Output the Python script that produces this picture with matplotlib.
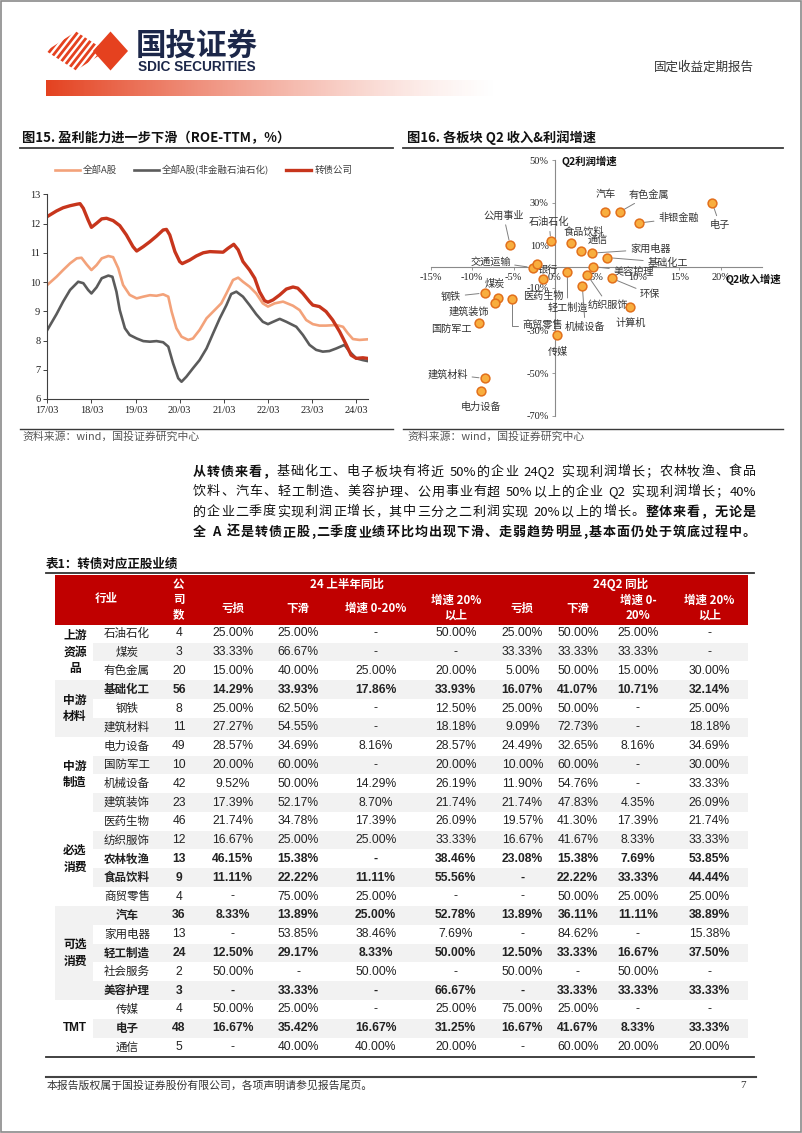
import matplotlib
matplotlib.use('Agg')
import matplotlib.pyplot as plt
import numpy as np
from matplotlib.patches import Polygon, Rectangle
from matplotlib.lines import Line2D
from matplotlib.font_manager import FontProperties

plt.rcParams['font.family'] = ['Noto Sans CJK SC', 'DejaVu Sans']
plt.rcParams['axes.unicode_minus'] = False

# ---------------- data: fig 15, ROE-TTM (x = months after 2017-03) ----------------
roe_all_m = [0, 2.5, 4.3, 6.2, 8, 9.3, 10.7, 12, 13.4, 14.8, 16.6, 17.9, 19.3, 20.6, 22.4, 24.3,
             26.1, 27.9, 29.7, 31.5, 32.9, 33.8, 35.1, 36.5, 38.3, 39.6, 41.4, 43.3, 45.5, 47.3,
             48.7, 50.5, 51.9, 53.2, 55, 56.8, 58.6, 60, 61.8, 64.1, 66.8, 68.6, 70.4, 72.2, 74,
             75.8, 78.6, 80.4, 81.7, 83.1, 84.9, 87]
roe_all = [9.90, 10.18, 10.41, 10.64, 10.81, 10.83, 10.60, 10.41, 10.58, 10.81, 10.89, 10.85, 10.47,
           9.90, 9.56, 9.44, 9.50, 9.55, 9.53, 9.58, 9.50, 8.99, 8.42, 8.13, 8.02, 8.07, 8.36, 8.76,
           9.04, 9.27, 9.61, 10.07, 10.15, 10.01, 9.84, 9.61, 9.27, 9.16, 9.27, 9.33, 9.19, 9.04,
           8.70, 8.56, 8.51, 8.51, 8.53, 8.47, 8.25, 8.05, 8.02, 8.04]
roe_ex_m = [0, 2.5, 4.3, 6.2, 8.4, 9.8, 11.1, 12, 13.4, 14.8, 16.6, 17.7, 18.8, 19.7, 21.1, 22.4,
            24.3, 26.1, 27.9, 29.7, 31.5, 32.9, 34.2, 35.6, 36.5, 37.8, 39.6, 41.4, 43.3, 45.1,
            46.9, 48.7, 50, 51.4, 53.2, 55, 56.8, 58.6, 60, 61.4, 63.2, 65, 67.7, 69.5, 71.3, 73.1,
            74.9, 76.7, 78.6, 80.8, 82.2, 84, 85.8, 87]
roe_ex = [8.36, 8.90, 9.33, 9.73, 10.01, 9.96, 9.73, 9.61, 9.82, 10.13, 10.22, 10.18, 9.67, 9.04,
          8.42, 8.19, 8.07, 7.98, 7.96, 7.98, 7.94, 7.79, 7.22, 6.71, 6.59, 6.76, 7.05, 7.33, 7.73,
          8.25, 8.76, 9.21, 9.59, 9.67, 9.50, 9.21, 8.90, 8.64, 8.56, 8.64, 8.74, 8.64, 8.47, 8.19,
          7.85, 7.68, 7.62, 7.64, 7.73, 7.85, 7.62, 7.39, 7.33, 7.30]
roe_cb_m = [0, 2.5, 4.3, 6.2, 8, 8.9, 9.8, 11.1, 12, 13.4, 14.8, 16.1, 17.9, 19.7, 21.5, 23.3, 24.3,
            26.1, 27.9, 29.7, 31.5, 32.4, 33.3, 34.7, 36, 36.7, 38.7, 40.5, 42.4, 44.2, 46, 47.8,
            49.1, 50.7, 51.9, 53.2, 55, 56.4, 57.7, 59.1, 60, 61.4, 63.2, 65, 66.8, 68.1, 69.5,
            71.3, 72.2, 74, 75.8, 77.6, 79.5, 81.3, 82.6, 84, 85.8, 87]
roe_cb = [12.24, 12.43, 12.54, 12.61, 12.66, 12.68, 12.52, 12.12, 11.87, 12.01, 12.16, 12.18, 12.10,
          11.93, 11.61, 11.21, 11.06, 11.21, 11.38, 11.57, 11.78, 11.80, 11.61, 11.04, 10.70, 10.63,
          10.75, 10.89, 11.00, 11.04, 11.03, 11.02, 11.15, 11.29, 11.10, 10.70, 10.41, 10.13, 9.67,
          9.36, 9.31, 9.39, 9.56, 9.76, 9.83, 9.79, 9.61, 9.33, 9.21, 9.16, 8.99, 8.70, 8.30, 7.85,
          7.50, 7.39, 7.41, 7.39]
roe_ticks = [0, 12, 24, 36, 48, 60, 72, 84]
roe_ticklabels = ['17/03', '18/03', '19/03', '20/03', '21/03', '22/03', '23/03', '24/03']
roe_names = ['全部A股', '全部A股(非金融石油石化)', '转债公司']

# ---------------- data: fig 16, Q2 revenue / profit growth (%) ----------------
sectors = ['电子', '非银金融', '有色金属', '汽车', '公用事业', '石油石化', '食品饮料', '通信', '家用电器',
           '基础化工', '交通运输', '银行', '美容护理', '轻工制造', '医药生物', '纺织服饰', '环保', '机械设备',
           '计算机', '传媒', '煤炭', '钢铁', '建筑装饰', '商贸零售', '国防军工', '建筑材料', '电力设备']
rev_growth = [19.0, 10.1, 7.8, 6.1, -5.4, -0.5, 1.9, 3.2, 4.5, 6.3, -2.7, -2.2, 4.6, 1.5, -1.4, 3.9,
              6.9, 3.3, 9.1, 0.2, -6.9, -8.5, -7.2, -5.2, -9.2, -8.5, -8.9]
profit_growth = [29.8, 20.4, 25.6, 25.6, 9.9, 11.8, 11.0, 7.1, 6.3, 4.2, -0.5, 1.4, 0.0, -2.4, -5.8,
                 -3.9, -5.6, -8.9, -19.0, -32.2, -14.7, -12.4, -17.1, -15.1, -26.5, -52.5, -58.4]

# ---------------- data: table 1 ----------------
industries = ['石油石化', '煤炭', '有色金属', '基础化工', '钢铁', '建筑材料', '电力设备', '国防军工', '机械设备',
              '建筑装饰', '医药生物', '纺织服饰', '农林牧渔', '食品饮料', '商贸零售', '汽车', '家用电器', '轻工制造',
              '社会服务', '美容护理', '传媒', '电子', '通信']
counts = [4, 3, 20, 56, 8, 11, 49, 10, 42, 23, 46, 12, 13, 9, 4, 36, 13, 24, 2, 3, 4, 48, 5]
h1_loss = ['25.00%', '33.33%', '15.00%', '14.29%', '25.00%', '27.27%', '28.57%', '20.00%', '9.52%', '17.39%',
           '21.74%', '16.67%', '46.15%', '11.11%', '-', '8.33%', '-', '12.50%', '50.00%', '-', '50.00%',
           '16.67%', '-']
h1_down = ['25.00%', '66.67%', '40.00%', '33.93%', '62.50%', '54.55%', '34.69%', '60.00%', '50.00%', '52.17%',
           '34.78%', '25.00%', '15.38%', '22.22%', '75.00%', '13.89%', '53.85%', '29.17%', '-', '33.33%',
           '25.00%', '35.42%', '40.00%']
h1_g0 = ['-', '-', '25.00%', '17.86%', '-', '-', '8.16%', '-', '14.29%', '8.70%', '17.39%', '25.00%', '-',
         '11.11%', '25.00%', '25.00%', '38.46%', '8.33%', '50.00%', '-', '-', '16.67%', '40.00%']
h1_g20 = ['50.00%', '-', '20.00%', '33.93%', '12.50%', '18.18%', '28.57%', '20.00%', '26.19%', '21.74%',
          '26.09%', '33.33%', '38.46%', '55.56%', '-', '52.78%', '7.69%', '50.00%', '-', '66.67%', '25.00%',
          '31.25%', '20.00%']
q2_loss = ['25.00%', '33.33%', '5.00%', '16.07%', '25.00%', '9.09%', '24.49%', '10.00%', '11.90%', '21.74%',
           '19.57%', '16.67%', '23.08%', '-', '-', '13.89%', '-', '12.50%', '50.00%', '-', '75.00%',
           '16.67%', '-']
q2_down = ['50.00%', '33.33%', '50.00%', '41.07%', '50.00%', '72.73%', '32.65%', '60.00%', '54.76%', '47.83%',
           '41.30%', '41.67%', '15.38%', '22.22%', '50.00%', '36.11%', '84.62%', '33.33%', '-', '33.33%',
           '25.00%', '41.67%', '60.00%']
q2_g0 = ['25.00%', '33.33%', '15.00%', '10.71%', '-', '-', '8.16%', '-', '-', '4.35%', '17.39%', '8.33%',
         '7.69%', '33.33%', '25.00%', '11.11%', '-', '16.67%', '50.00%', '33.33%', '-', '8.33%', '20.00%']
q2_g20 = ['-', '-', '30.00%', '32.14%', '25.00%', '18.18%', '34.69%', '30.00%', '33.33%', '26.09%', '21.74%',
          '33.33%', '53.85%', '44.44%', '25.00%', '38.89%', '15.38%', '37.50%', '-', '33.33%', '-',
          '33.33%', '20.00%']
bold_industries = ['基础化工', '农林牧渔', '食品饮料', '汽车', '轻工制造', '美容护理', '电子']
group_names = [['上游', '资源', '品'], ['中游', '材料'], ['中游', '制造'], ['必选', '消费'], ['可选', '消费'], ['TMT']]
group_sizes = [3, 3, 4, 5, 5, 3]

paragraph = [
    [('从转债来看，', True), ('基础化工、电子板块有将近 50%的企业 24Q2 实现利润增长；农林牧渔、食品', False)],
    [('饮料、汽车、轻工制造、美容护理、公用事业有超 50%以上的企业 Q2 实现利润增长；40%', False)],
    [('的企业二季度实现利润正增长，其中三分之二利润实现 20%以上的增长。', False), ('整体来看，无论是', True)],
    [('全 A 还是转债正股,二季度业绩环比均出现下滑、走弱趋势明显,基本面仍处于筑底过程中。', True)],
]

# ---------------- page ----------------
W, H = 802, 1133
fig = plt.figure(figsize=(W / 100, H / 100), dpi=100)
bg = fig.add_axes([0, 0, 1, 1])
bg.set_xlim(0, W)
bg.set_ylim(H, 0)
bg.axis('off')

CJK = ['Noto Sans CJK SC', 'DejaVu Sans']
SERIF = ['Liberation Serif', 'Noto Sans CJK SC']
ARIAL = ['Liberation Sans', 'Noto Sans CJK SC']

bg.add_patch(Rectangle((0.8, 0.8), W - 2.2, H - 2.2, fill=False, ec='#8a8a8a', lw=1.2))

# logo
red = '#E5411F'
stripe_clip = Polygon([(46, 51), (76, 31.5), (106, 51), (76, 70.5)], closed=True,
                      transform=bg.transData, fc='none', ec='none')
bg.add_patch(stripe_clip)
ang = np.deg2rad(52)
d = np.array([np.cos(ang), -np.sin(ang)])
for k in range(-9, 10):
    cx, cy = 76 + k * 6.5, 51
    ln, = bg.plot([cx - 40 * d[0], cx + 40 * d[0]], [cy - 40 * d[1], cy + 40 * d[1]],
                  color=red, lw=2.0, solid_capstyle='butt')
    ln.set_clip_path(stripe_clip)
bg.add_patch(Polygon([(93, 51), (110.5, 31.5), (128, 51), (110.5, 70.5)], closed=True, fc=red, ec='none'))
bg.text(136, 46, '国投证券', fontsize=22, fontweight='bold', color='#1C2749', va='center', ha='left')
bg.text(138, 67, 'SDIC SECURITIES', fontsize=9.8, fontweight='bold', color='#1C2749', va='center', ha='left',
        family=['Liberation Sans Narrow', 'Liberation Sans'])
bg.text(704, 67, '固定收益定期报告', fontsize=9, color='#333333', va='center', ha='center')

t = np.linspace(0, 1, 300)
grad = np.zeros((1, 300, 4))
grad[..., 0] = 0.898
grad[..., 1] = 0.255
grad[..., 2] = 0.122
grad[..., 3] = (1 - t) ** 1.3
bg.imshow(grad, extent=(46, 500, 96, 80), aspect='auto', interpolation='bilinear')
bg.set_xlim(0, W)
bg.set_ylim(H, 0)

# chart titles / rules / sources
bg.text(22, 138, '图15. 盈利能力进一步下滑（ROE-TTM，%）', fontsize=9.5, fontweight='bold', va='center', color='#111')
bg.text(407, 138, '图16. 各板块 Q2 收入&利润增速', fontsize=9.5, fontweight='bold', va='center', color='#111')
for x0, x1 in [(20, 393), (403, 783)]:
    bg.plot([x0, x1], [147.5, 147.5], color='#3a3a3a', lw=1.3)
    bg.plot([x0, x1], [429, 429], color='#3a3a3a', lw=1.0)
bg.text(22, 437, '资料来源：wind，国投证券研究中心', fontsize=7.8, color='#555555', va='center')
bg.text(407, 437, '资料来源：wind，国投证券研究中心', fontsize=7.8, color='#555555', va='center')

# ---------------- fig 15 ----------------
ax1 = fig.add_axes([47.3 / W, 1 - 399 / H, (368 - 47.3) / W, (399 - 194.3) / H])
c_all, c_ex, c_cb = '#F3A27A', '#5B5B5B', '#C7351C'
ax1.plot(roe_all_m, roe_all, color=c_all, lw=1.9, solid_joinstyle='round')
ax1.plot(roe_ex_m, roe_ex, color=c_ex, lw=1.9, solid_joinstyle='round')
ax1.plot(roe_cb_m, roe_cb, color=c_cb, lw=2.4, solid_joinstyle='round')
ax1.set_xlim(0, 87.2)
ax1.set_ylim(6, 13)
ax1.set_xticks(roe_ticks)
ax1.set_xticklabels(roe_ticklabels)
ax1.set_yticks(range(6, 14))
for s in ['top', 'right']:
    ax1.spines[s].set_visible(False)
for s in ['left', 'bottom']:
    ax1.spines[s].set_color('#404040')
    ax1.spines[s].set_linewidth(0.8)
ax1.tick_params(length=3, width=0.7, color='#404040', labelsize=7.5, pad=2, labelcolor='#222')
for lab in ax1.get_xticklabels() + ax1.get_yticklabels():
    lab.set_fontfamily(SERIF)
handles = [Line2D([], [], color=c_all, lw=1.9), Line2D([], [], color=c_ex, lw=1.9),
           Line2D([], [], color=c_cb, lw=2.4)]
leg = ax1.legend(handles, roe_names, ncol=3, loc='center left', bbox_to_anchor=(55 / W, 1 - 170 / H),
                 bbox_transform=fig.transFigure, frameon=False, fontsize=6.8, handlelength=2.6,
                 handletextpad=0.35, columnspacing=1.8, borderpad=0, borderaxespad=0)
for tx in leg.get_texts():
    tx.set_color('#404040')

# ---------------- fig 16 ----------------
ax2 = fig.add_axes([430.7 / W, 1 - 415.7 / H, (762 - 430.7) / W, (415.7 - 160) / H])
ax2.set_xlim(-15, 25)
ax2.set_ylim(-70, 50)
ax2.spines['left'].set_position(('data', 0))
ax2.spines['bottom'].set_position(('data', 0))
for s in ['top', 'right']:
    ax2.spines[s].set_visible(False)
for s in ['left', 'bottom']:
    ax2.spines[s].set_color('#8a8a8a')
    ax2.spines[s].set_linewidth(0.8)
ax2.set_xticks(range(-15, 21, 5))
ax2.set_xticklabels([f'{v}%' for v in range(-15, 21, 5)])
ax2.set_yticks(range(-70, 51, 20))
ax2.set_yticklabels([f'{v}%' for v in range(-70, 51, 20)])
ax2.tick_params(length=2.5, width=0.6, color='#8a8a8a', labelsize=7.5, pad=2, labelcolor='#222')
for lab in ax2.get_xticklabels() + ax2.get_yticklabels():
    lab.set_fontfamily(SERIF)
ax2.patch.set_alpha(0)
ax2.scatter(rev_growth, profit_growth, s=40, c='#F8AE3E', edgecolors='#E2701C', linewidths=1.1, zorder=4)
ax2.text(4.1, 49.2, 'Q2利润增速', fontsize=7.5, fontweight='bold', ha='center', va='center', color='#111')
ax2.text(23.9, -5.9, 'Q2收入增速', fontsize=7.5, fontweight='bold', ha='center', va='center', color='#111')

label_pos = {'电子': (19.9, 19.6), '非银金融': (14.9, 22.7), '有色金属': (11.4, 33.6), '汽车': (6.15, 34.1),
             '公用事业': (-6.2, 23.9), '石油石化': (-0.7, 20.8), '食品饮料': (3.46, 16.0), '通信': (5.15, 12.0),
             '家用电器': (11.5, 8.1), '基础化工': (13.6, 1.9), '交通运输': (-7.8, 2.3), '银行': (-0.84, -1.7),
             '美容护理': (9.5, -2.3), '环保': (11.5, -13.0), '纺织服饰': (6.4, -18.0), '计算机': (9.2, -26.6),
             '机械设备': (3.66, -28.2), '轻工制造': (1.53, -19.1), '医药生物': (-1.37, -13.6),
             '商贸零售': (-1.49, -27.7), '传媒': (0.32, -39.9), '煤炭': (-7.32, -8.3), '钢铁': (-12.55, -14.1),
             '建筑装饰': (-10.4, -21.1), '国防军工': (-12.55, -29.3), '建筑材料': (-12.95, -50.5),
             '电力设备': (-8.93, -65.7)}
leaders = ['电子', '非银金融', '有色金属', '公用事业', '石油石化', '家用电器', '基础化工', '交通运输', '美容护理',
           '环保', '纺织服饰', '机械设备', '轻工制造', '商贸零售', '钢铁', '建筑材料']
for name, xv, yv in zip(sectors, rev_growth, profit_growth):
    lx, ly = label_pos[name]
    if name in leaders:
        cs = 'angle,angleA=0,angleB=90,rad=0' if name == '商贸零售' else 'arc3'
        ax2.annotate(name, (xv, yv), xytext=(lx, ly), fontsize=7.3, color='#333', ha='center', va='center',
                     arrowprops=dict(arrowstyle='-', color='#808080', lw=0.7, shrinkA=1, shrinkB=4,
                                     connectionstyle=cs), zorder=3)
    else:
        ax2.text(lx, ly, name, fontsize=7.3, color='#333', ha='center', va='center', zorder=3)

# ---------------- paragraph ----------------
renderer = fig.canvas.get_renderer()


def justified(y, x0, x1, runs, size):
    fps = {False: FontProperties(family=CJK, size=size), True: FontProperties(family=CJK, size=size, weight='bold')}
    units = []
    for s, b in runs:
        buf = ''
        for ch in s:
            if ch == ' ' or ord(ch) >= 128:
                if buf:
                    units.append((buf, b))
                    buf = ''
                units.append((ch, b))
            else:
                buf += ch
        if buf:
            units.append((buf, b))
    widths = []
    for u, b in units:
        if u == ' ':
            widths.append(size * 100 / 72 * 0.3)
        else:
            widths.append(renderer.get_text_width_height_descent(u, fps[b], ismath=False)[0])
    gap = (x1 - x0 - sum(widths)) / (len(units) - 1)
    x = x0
    for (u, b), w in zip(units, widths):
        if u != ' ':
            bg.text(x, y, u, fontproperties=fps[b], va='center', ha='left', color='#111')
        x += w + gap


for i, runs in enumerate(paragraph):
    justified(472 + i * 20, 193, 756, runs, 9.4)

# ---------------- table ----------------
bg.text(46, 564.5, '表1：转债对应正股业绩', fontsize=9, fontweight='bold', va='center', color='#111')
bg.plot([46, 754], [573, 573], color='#333', lw=1.3)
bg.add_patch(Rectangle((55, 575), 693, 50, fc='#C00000', ec='none'))
hd = dict(color='white', fontweight='bold', fontsize=8.3, ha='center', va='center')
bg.text(106, 598, '行业', **hd)
for j, ch in enumerate('公司数'):
    bg.text(178.5, 584 + j * 15.3, ch, **hd)
bg.text(346.7, 584, '24 上半年同比', **hd)
bg.text(621, 584, '24Q2 同比', **hd)
col_x = [232.7, 298.3, 375.7, 455.7, 522.3, 577.7, 638.0, 709.3]
head2 = [['亏损'], ['下滑'], ['增速 0-20%'], ['增速 20%', '以上'], ['亏损'], ['下滑'], ['增速 0-', '20%'],
         ['增速 20%', '以上']]
for cx, lines in zip(col_x, head2):
    if len(lines) == 1:
        bg.text(cx, 608, lines[0], **hd)
    else:
        bg.text(cx, 600.5, lines[0], **hd)
        bg.text(cx, 615.5, lines[1], **hd)

row0, rh = 633.3, 18.8
cols = [h1_loss, h1_down, h1_g0, h1_g20, q2_loss, q2_down, q2_g0, q2_g20]
for i, name in enumerate(industries):
    yc = row0 + i * rh
    if i % 2 == 1:
        bg.add_patch(Rectangle((93, yc - rh / 2), 748 - 93, rh, fc='#F2F2F2', ec='none', zorder=0.5))
    b = 'bold' if name in bold_industries else 'normal'
    bg.text(127, yc, name, fontsize=8.3, fontweight=b, ha='center', va='center', color='#222', zorder=2)
    bg.text(179, yc, str(counts[i]), fontsize=8.7, fontweight=b, ha='center', va='center', color='#222',
            family=ARIAL, zorder=2)
    for cx, col in zip(col_x, cols):
        bg.text(cx, yc, col[i], fontsize=8.7, fontweight=b, ha='center', va='center', color='#222',
                family=ARIAL, zorder=2)

start = 0
for names, n in zip(group_names, group_sizes):
    top = row0 + start * rh - rh / 2
    if start % 2 == 1:
        bg.add_patch(Rectangle((55, top), 93 - 55, n * rh, fc='#F2F2F2', ec='none', zorder=0.5))
    yc = top + n * rh / 2
    k = len(names)
    for j, s in enumerate(names):
        bg.text(75, yc + (j - (k - 1) / 2) * 16.5, s, fontsize=8.5, fontweight='bold', ha='center',
                va='center', color='#111', family=ARIAL if s == 'TMT' else CJK, zorder=2)
    start += n

bg.plot([46, 754], [1057, 1057], color='#333', lw=1.3)

# ---------------- footer ----------------
bg.plot([46, 756], [1077, 1077], color='#444', lw=1.5)
bg.text(47, 1086, '本报告版权属于国投证券股份有限公司，各项声明请参见报告尾页。', fontsize=7.8, color='#333', va='center')
bg.text(740, 1086, '7', fontsize=8, color='#333', va='center', family=SERIF)

fig.savefig('out.png', dpi=100)
